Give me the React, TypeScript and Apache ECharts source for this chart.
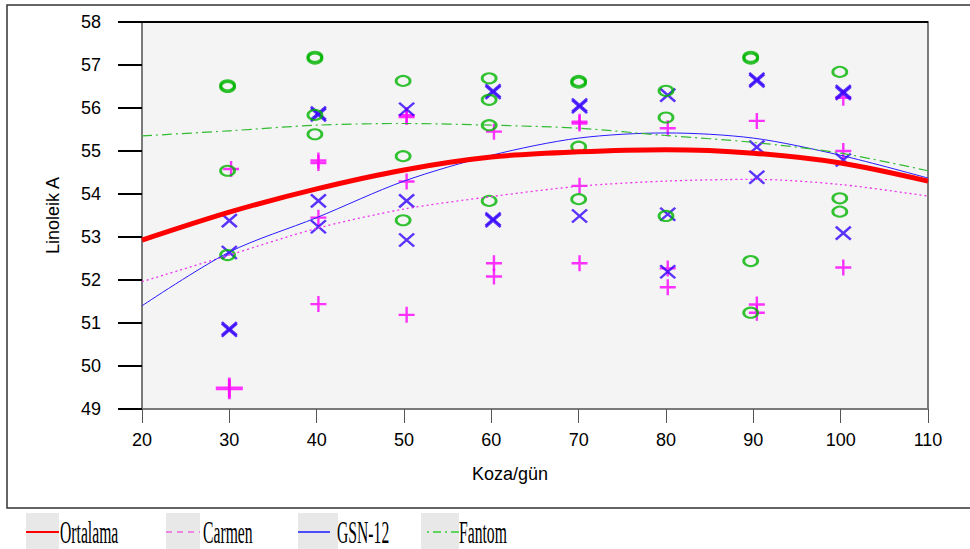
import React, { useEffect, useRef } from "react";
import * as echarts from "echarts";

const fitX = [20, 30, 40, 50, 60, 70, 80, 90, 100, 110];
const ortalama = [52.93, 53.58, 54.12, 54.56, 54.86, 54.98, 55.03, 54.95, 54.72, 54.3];
const carmenFit = [51.96, 52.58, 53.2, 53.65, 53.94, 54.18, 54.3, 54.34, 54.22, 53.95];
const gsnFit = [51.4, 52.65, 53.45, 54.3, 54.9, 55.3, 55.42, 55.3, 54.9, 54.37];
const fantomFit = [55.35, 55.47, 55.6, 55.64, 55.6, 55.53, 55.36, 55.2, 54.95, 54.54];

// observed points [day, value]
const carmenObs: [number, number][] = [
  [30.2, 54.58], [30.0, 49.5], [30.0, 49.46],
  [40.2, 54.78], [40.2, 54.72], [40.2, 53.45], [40.2, 51.44],
  [50.3, 55.83], [50.3, 55.79], [50.3, 54.29], [50.3, 51.19],
  [60.3, 55.45], [60.3, 52.39], [60.3, 52.08],
  [70.1, 55.68], [70.1, 55.64], [70.1, 54.19], [70.1, 52.39],
  [80.2, 55.53], [80.2, 52.27], [80.2, 51.83],
  [90.4, 55.7], [90.4, 51.43], [90.4, 51.24],
  [100.3, 56.24], [100.3, 55.0], [100.3, 52.29],
];
const gsnObs: [number, number][] = [
  [30.0, 53.38], [30.0, 52.64], [30.0, 50.87], [30.0, 50.83],
  [40.2, 55.88], [40.2, 55.84], [40.2, 53.84], [40.2, 53.24],
  [50.3, 55.97], [50.3, 53.84], [50.3, 52.93],
  [60.2, 56.4], [60.2, 56.36], [60.2, 53.42], [60.2, 53.38],
  [70.1, 56.07], [70.1, 56.03], [70.1, 53.49],
  [80.2, 56.3], [80.2, 53.53], [80.2, 52.19],
  [90.4, 56.67], [90.4, 56.63], [90.4, 55.09], [90.4, 54.39],
  [100.3, 56.38], [100.3, 56.34], [100.3, 54.79], [100.3, 53.09],
];
const fantomObs: [number, number][] = [
  [29.8, 56.53], [29.8, 56.49], [29.8, 54.54], [29.8, 52.58],
  [39.8, 57.19], [39.8, 57.15], [39.8, 55.84], [39.8, 55.39],
  [49.9, 56.63], [49.9, 54.88], [49.9, 53.39],
  [59.75, 56.69], [59.75, 56.19], [59.75, 55.6], [59.75, 53.84],
  [70.0, 56.63], [70.0, 56.59], [70.0, 55.1], [70.0, 53.88],
  [80.0, 56.4], [80.0, 55.78], [80.0, 53.49],
  [89.7, 57.19], [89.7, 57.15], [89.7, 52.44], [89.7, 51.24],
  [99.9, 56.84], [99.9, 53.9], [99.9, 53.59],
];

const legendItems = ["Ortalama", "Carmen", "GSN-12", "Fantom"];

const pair = (ys: number[]) => fitX.map((x, i) => [x, ys[i]]);

export default function App() {
  const ref = useRef<HTMLDivElement>(null);
  useEffect(() => {
    if (!ref.current) return;
    const chart = echarts.init(ref.current, undefined, { renderer: "svg" });
    const font = "Liberation Sans";
    const legendFont = '32px "Liberation Serif"';
    const ly = 532;
    chart.setOption({
      animation: false,
      backgroundColor: "#ffffff",
      grid: {
        left: 142,
        top: 22,
        width: 786,
        height: 387,
        show: true,
        backgroundColor: "#f4f4f4",
        borderColor: "#7a7a7a",
        borderWidth: 2,
      },
      xAxis: {
        type: "value",
        min: 20,
        max: 110,
        interval: 10,
        name: "Koza/gün",
        nameLocation: "middle",
        nameGap: 56,
        nameTextStyle: { fontFamily: font, fontSize: 18, color: "#000", padding: [0, 50, 0, 0] },
        axisLine: { show: true, lineStyle: { color: "#7a7a7a", width: 2 } },
        axisTick: { show: true, length: 14, lineStyle: { color: "#555", width: 1 } },
        axisLabel: { fontFamily: font, fontSize: 18, color: "#000", margin: 22 },
        splitLine: { show: false },
      },
      yAxis: {
        type: "value",
        min: 49,
        max: 58,
        interval: 1,
        name: "Linoleik A",
        nameLocation: "middle",
        nameGap: 80,
        nameRotate: 90,
        nameTextStyle: { fontFamily: font, fontSize: 18, color: "#000" },
        axisLine: { show: true, lineStyle: { color: "#7a7a7a", width: 2 } },
        axisTick: { show: true, length: 24, lineStyle: { color: "#000", width: 2 } },
        axisLabel: { fontFamily: font, fontSize: 18, color: "#000", margin: 41 },
        splitLine: { show: false },
      },
      series: [
        {
          name: "Carmen obs",
          type: "scatter",
          data: carmenObs,
          symbol: "path://M0,5L10,5M5,0L5,10",
          symbolSize: (v: number[]) => (v[1] < 50 ? [27, 20] : 16),
          itemStyle: { color: "none", borderColor: "#ff00ff", borderWidth: 2.4 },
          z: 3,
        },
        {
          name: "GSN obs",
          type: "scatter",
          data: gsnObs,
          symbol: "path://M0,0L10,10M10,0L0,10",
          symbolSize: [15, 13],
          itemStyle: { color: "none", borderColor: "#3300ff", borderWidth: 2.4 },
          z: 3,
        },
        {
          name: "Fantom obs",
          type: "scatter",
          data: fantomObs,
          symbol: "circle",
          symbolSize: [14, 10],
          itemStyle: { color: "rgba(0,0,0,0)", borderColor: "#00b400", borderWidth: 2.4 },
          z: 3,
        },
        {
          name: "Carmen",
          type: "line",
          data: pair(carmenFit),
          smooth: 0.3,
          symbol: "none",
          lineStyle: { color: "#ee33ee", width: 1.3, type: [2, 3] },
          z: 4,
        },
        {
          name: "GSN-12",
          type: "line",
          data: pair(gsnFit),
          smooth: 0.3,
          symbol: "none",
          lineStyle: { color: "#2a1aff", width: 1 },
          z: 4,
        },
        {
          name: "Fantom",
          type: "line",
          data: pair(fantomFit),
          smooth: 0.3,
          symbol: "none",
          lineStyle: { color: "#33bb33", width: 1.2, type: [10, 4, 2, 4] },
          z: 4,
        },
        {
          name: "Ortalama",
          type: "line",
          data: pair(ortalama),
          smooth: 0.3,
          symbol: "none",
          lineStyle: { color: "#ff0000", width: 5 },
          z: 5,
        },
      ],
      graphic: [
        {
          type: "rect",
          shape: { x: 7, y: 5, width: 990, height: 503 },
          style: { fill: "none", stroke: "#333", lineWidth: 1.5 },
          silent: true,
          z: -10,
        },
        {
          type: "line",
          shape: { x1: 142, y1: 22, x2: 928, y2: 22 },
          style: { stroke: "#000", lineWidth: 2 },
          z: 100,
        },
        // legend boxes
        { type: "rect", shape: { x: 26, y: 513, width: 33, height: 36 }, style: { fill: "#e8e8e8" } },
        { type: "rect", shape: { x: 166, y: 513, width: 34, height: 36 }, style: { fill: "#e8e8e8" } },
        { type: "rect", shape: { x: 298, y: 513, width: 40, height: 36 }, style: { fill: "#e8e8e8" } },
        { type: "rect", shape: { x: 421, y: 513, width: 38, height: 36 }, style: { fill: "#e8e8e8" } },
        { type: "line", shape: { x1: 26, y1: ly, x2: 59, y2: ly }, style: { stroke: "#ff0000", lineWidth: 2 } },
        { type: "line", shape: { x1: 166, y1: ly, x2: 200, y2: ly }, style: { stroke: "#ee66dd", lineWidth: 1.5, lineDash: [6, 5] } },
        { type: "line", shape: { x1: 298, y1: ly, x2: 330, y2: ly }, style: { stroke: "#1a1aff", lineWidth: 1.5 } },
        { type: "line", shape: { x1: 427, y1: ly, x2: 459, y2: ly }, style: { stroke: "#33cc33", lineWidth: 1.5, lineDash: [2, 4, 8, 4] } },
        { type: "text", x: 60, y: ly, scaleX: 0.49, style: { text: legendItems[0], font: legendFont, fill: "#000", textVerticalAlign: "middle" } },
        { type: "text", x: 203, y: ly, scaleX: 0.49, style: { text: legendItems[1], font: legendFont, fill: "#000", textVerticalAlign: "middle" } },
        { type: "text", x: 337, y: ly, scaleX: 0.49, style: { text: legendItems[2], font: legendFont, fill: "#000", textVerticalAlign: "middle" } },
        { type: "text", x: 459, y: ly, scaleX: 0.49, style: { text: legendItems[3], font: legendFont, fill: "#000", textVerticalAlign: "middle" } },
      ],
    });
    return () => chart.dispose();
  }, []);
  return (
    <div
      ref={ref}
      style={{ position: "fixed", left: 0, top: 0, width: 970, height: 549 }}
    />
  );
}
